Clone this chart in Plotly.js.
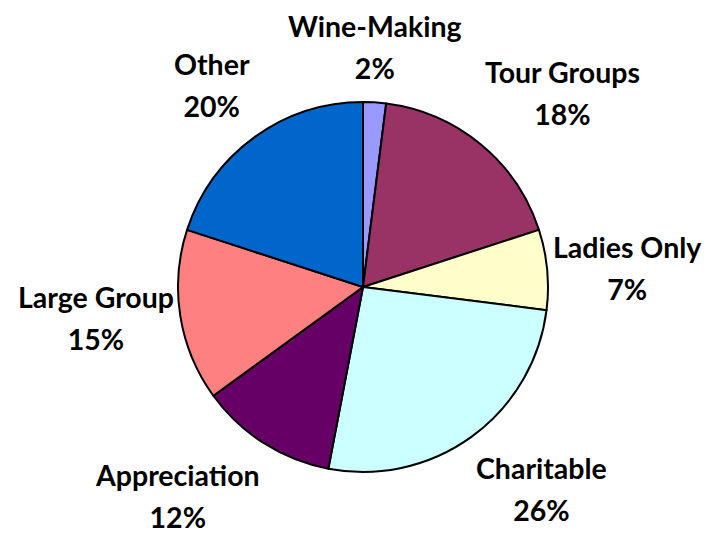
<!DOCTYPE html>
<html>
<head>
<meta charset="utf-8">
<script src="https://cdn.plot.ly/plotly-3.0.1.min.js"></script>
<style>html,body{margin:0;padding:0;background:#fff;}#chart{width:711px;height:534px;}</style>
</head>
<body>
<div id="chart"></div>
<script>
const categories = ["Wine-Making", "Tour Groups", "Ladies Only", "Charitable", "Appreciation", "Large Group", "Other"];
const values = [2, 18, 7, 26, 12, 15, 20];
const colors = ["#9999FF", "#993366", "#FFFFCC", "#CCFFFF", "#660066", "#FF8080", "#0066CC"];

const W = 711, H = 534;
const cx = 363, cy = 287, R = 185, labelRx = 190, labelRy = 201;

const total = values.reduce((a, b) => a + b, 0);
const annotations = [];
let cum = 0;
values.forEach((v, i) => {
  const th = 2 * Math.PI * (cum + v / 2) / total;
  cum += v;
  const s = Math.sin(th), c = Math.cos(th);
  const px = cx + labelRx * s, py = cy - labelRy * c;
  annotations.push({
    xref: "paper", yref: "paper",
    x: px / W, y: 1 - py / H,
    xanchor: s > 0.3 ? "left" : (s < -0.3 ? "right" : "center"),
    yanchor: c > 0.3 ? "bottom" : (c < -0.3 ? "top" : "middle"),
    showarrow: false,
    align: "center",
    borderpad: 0,
    text: '<span style="font-size:28.5px">' + categories[i] + '</span><br><span style="font-size:28.5px">' + Math.round(v / total * 100) + '%</span>',
    font: {family: "Lato, 'Liberation Sans', sans-serif", size: 32, color: "#000000", weight: "bold"}
  });
});

const trace = {
  type: "pie",
  labels: categories,
  values: values,
  sort: false,
  direction: "clockwise",
  rotation: 0,
  marker: {colors: colors, line: {color: "#000000", width: 2}},
  textinfo: "none",
  showlegend: false,
  hoverinfo: "label+percent",
  domain: {x: [(cx - R) / W, (cx + R) / W], y: [1 - (cy + R) / H, 1 - (cy - R) / H]}
};

const layout = {
  width: W, height: H,
  margin: {l: 0, r: 0, t: 0, b: 0},
  paper_bgcolor: "#ffffff",
  showlegend: false,
  annotations: annotations
};

Plotly.newPlot("chart", [trace], layout, {displayModeBar: false, staticPlot: true});
</script>
</body>
</html>
